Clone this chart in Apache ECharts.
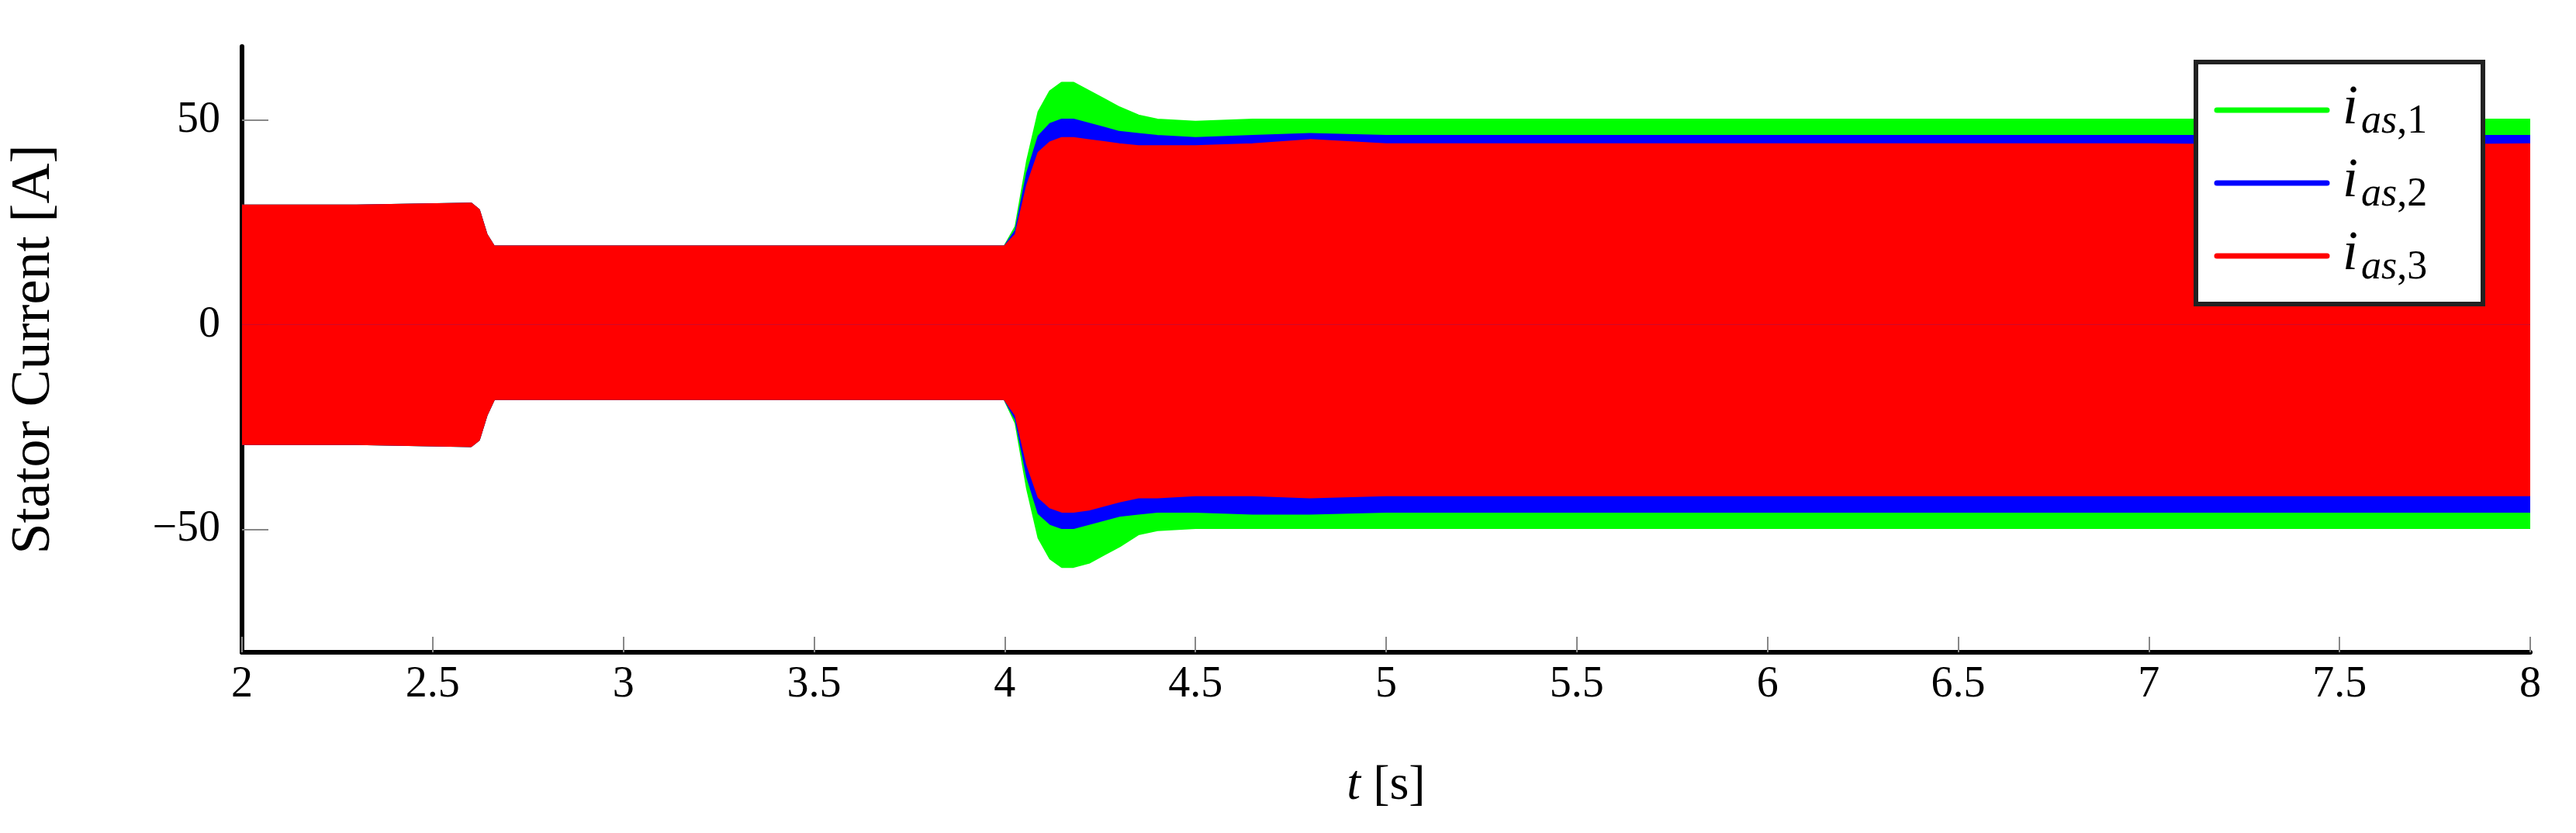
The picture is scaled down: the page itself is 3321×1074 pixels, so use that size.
<!DOCTYPE html>
<html>
<head>
<meta charset="utf-8">
<script src="https://cdn.jsdelivr.net/npm/echarts@6/dist/echarts.min.js"></script>
<style>
  html, body { margin: 0; padding: 0; background: #fff; }
  #chart { width: 3321px; height: 1074px; }
</style>
</head>
<body>
<div id="chart"></div>
<script>
// envelope of the stator current, time in s
const time = [2, 2.3, 2.6, 2.62, 2.64, 2.66, 3, 3.5, 4, 4.03, 4.06, 4.09, 4.12, 4.15, 4.18, 4.22, 4.26, 4.3, 4.35, 4.4, 4.5, 4.65, 4.8, 5, 5.5, 6, 6.5, 7, 7.5, 8];

const upper1 = [29, 29, 29.5, 28, 22, 19, 19, 19, 19, 24, 40, 52, 57, 59, 59, 57, 55, 53, 51, 50, 49.5, 50, 50, 50, 50, 50, 50, 50, 50, 50];
const lower1 = [-29, -29, -29.5, -28, -22, -18, -18, -18, -18, -24, -40, -52, -57, -59, -59, -58, -56, -54, -51, -50, -49.5, -49.5, -49.5, -49.5, -49.5, -49.5, -49.5, -49.5, -49.5, -49.5];
const upper2 = [29, 29, 29.5, 28, 22, 19, 19, 19, 19, 23, 37, 46, 49, 50, 50, 49, 48, 47, 46.5, 46, 45.5, 46, 46.5, 46, 46, 46, 46, 46, 46, 46];
const lower2 = [-29, -29, -29.5, -28, -22, -18, -18, -18, -18, -23, -37, -46, -48.5, -49.5, -49.5, -48.5, -47.5, -46.5, -46, -45.5, -45.5, -46, -46, -45.5, -45.5, -45.5, -45.5, -45.5, -45.5, -45.5];
const upper3 = [29, 29, 29.5, 28, 22, 19, 19, 19, 19, 22, 34, 42, 44.5, 45.5, 45.5, 45, 44.5, 44, 43.5, 43.5, 43.5, 44, 45, 44, 44, 44, 44, 44, 43.5, 44];
const lower3 = [-29, -29, -29.5, -28, -22, -18, -18, -18, -18, -22, -34, -42, -44.5, -45.5, -45.5, -45, -44, -43, -42, -42, -41.5, -41.5, -42, -41.5, -41.5, -41.5, -41.5, -41.5, -41.5, -41.5];

const yTicks = [-50, 0, 50];
const names = ['i1', 'i2', 'i3'];
const subNums = ['1', '2', '3'];
const colors = ['#00ff00', '#0000ff', '#ff0000'];

const serif = '"Liberation Serif", "DejaVu Serif", serif';

function pairs(ys) {
  return time.map(function (t, i) { return [t, ys[i]]; });
}

function band(idx, ys) {
  return {
    name: names[idx],
    type: 'line',
    data: pairs(ys),
    symbol: 'none',
    lineStyle: { color: colors[idx], width: 4 },
    itemStyle: { color: colors[idx] },
    areaStyle: { color: colors[idx], opacity: 1, origin: 0 },
    z: 2 + idx
  };
}

// legend box drawn as graphic (three entries with subscripts)
const legendItems = [];
legendItems.push({
  type: 'rect',
  shape: { x: 2831, y: 80, width: 370, height: 312 },
  style: { fill: '#fff', stroke: '#222', lineWidth: 6 },
  z: 100
});
names.forEach(function (n, i) {
  const y = 142 + i * 94;
  legendItems.push({
    type: 'line',
    shape: { x1: 2858, y1: y, x2: 3000, y2: y },
    style: { stroke: colors[i], lineWidth: 7, lineCap: 'round' },
    z: 101
  });
  legendItems.push({
    type: 'text',
    x: 3020, y: y - 2,
    style: {
      text: '{i|i}{s|as}{n|,' + subNums[i] + '}',
      verticalAlign: 'middle',
      rich: {
        i: { fontFamily: serif, fontStyle: 'italic', fontSize: 72, fill: '#000' },
        s: { fontFamily: serif, fontStyle: 'italic', fontSize: 52, fill: '#000', padding: [34, 0, 0, 4] },
        n: { fontFamily: serif, fontSize: 52, fill: '#000', padding: [34, 0, 0, 0] }
      }
    },
    z: 101
  });
});

const chart = echarts.init(document.getElementById('chart'));
chart.setOption({
  animation: false,
  grid: { left: 305, right: 59, top: 60, bottom: 233 },
  xAxis: {
    type: 'value',
    min: 2,
    max: 8,
    interval: 0.5,
    name: '{it|t} [s]',
    nameLocation: 'middle',
    nameGap: 140,
    nameTextStyle: {
      fontFamily: serif, fontSize: 64, color: '#000',
      rich: { it: { fontFamily: serif, fontStyle: 'italic', fontSize: 64 } }
    },
    axisLine: { onZero: false, lineStyle: { color: '#000', width: 6 } },
    axisTick: { inside: true, length: 20, lineStyle: { color: '#888', width: 2 } },
    axisLabel: { fontFamily: serif, fontSize: 56, color: '#000', margin: 14 },
    splitLine: { show: false }
  },
  yAxis: {
    type: 'value',
    min: -80,
    max: 68,
    name: 'Stator Current [A]',
    nameLocation: 'middle',
    nameGap: 232,
    nameRotate: 90,
    nameTextStyle: { fontFamily: serif, fontSize: 72, color: '#000' },
    axisLine: { show: true, onZero: false, lineStyle: { color: '#000', width: 6 } },
    axisTick: { show: true, inside: true, length: 34, customValues: yTicks, lineStyle: { color: '#888', width: 2 } },
    axisLabel: {
      fontFamily: serif, fontSize: 56, color: '#000', margin: 28,
      customValues: yTicks,
      formatter: function (v) { return v < 0 ? '\u2212' + Math.abs(v) : String(v); }
    },
    splitLine: { show: false }
  },
  graphic: legendItems,
  series: [
    band(0, upper1), band(0, lower1),
    band(1, upper2), band(1, lower2),
    band(2, upper3), band(2, lower3)
  ]
});
</script>
</body>
</html>
